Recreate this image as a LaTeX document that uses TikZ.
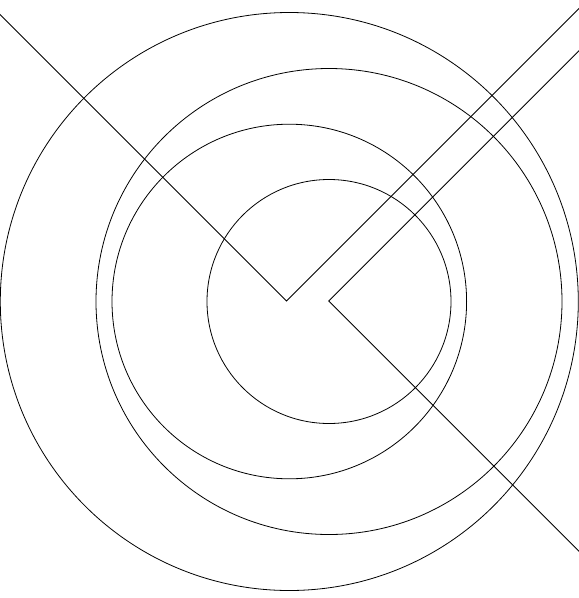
\documentclass[tikz,border=0pt]{standalone}
\usetikzlibrary{calc}
\begin{document}
\begin{tikzpicture}[x=1pt,y=-1pt,line width=0.8pt,
  ring/.style={draw=black},
  ray/.style={draw=black}]
\useasboundingbox (0,0) rectangle (579,598);
\clip (0,0) rectangle (579,598);
\coordinate (A) at (289.3,301.5);
\coordinate (B) at (329,301.5);
\coordinate (V1) at (286.5,301);
\coordinate (V2) at (328.7,301);
\draw[ring] (A) circle[radius=289];
\draw[ring] (B) circle[radius=233];
\draw[ring] (A) circle[radius=177.3];
\draw[ring] (B) circle[radius=122];
\draw[ray] ($(V1)+(-320,-320)$) -- (V1) -- ($(V1)+(320,-320)$);
\draw[ray] ($(V2)+(300,-300)$) -- (V2) -- ($(V2)+(300,300)$);
\end{tikzpicture}
\end{document}
